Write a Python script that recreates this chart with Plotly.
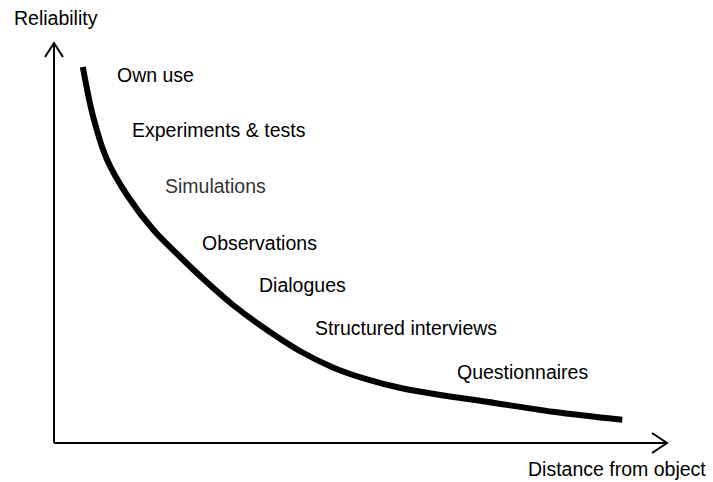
import plotly.graph_objects as go

# curve (distance -> reliability, both on a 0-10 scale)
distance = [0.47, 0.64, 0.86, 1.19, 1.62, 2.06, 2.45, 2.92, 3.47, 4.01,
            4.55, 5.11, 5.64, 6.30, 7.06, 8.14, 9.27]
reliability = [9.40, 8.15, 7.10, 6.20, 5.33, 4.65, 4.08, 3.45, 2.83, 2.30,
               1.89, 1.59, 1.38, 1.20, 1.03, 0.78, 0.58]

methods = ['Own use', 'Experiments & tests', 'Simulations', 'Observations',
           'Dialogues', 'Structured interviews', 'Questionnaires']
method_colors = ['black', 'black', '#333333', 'black', 'black', 'black', 'black']

W, H = 713, 482
L, R, T, B = 54, 46, 43, 39
pw, ph = W - L - R, H - T - B

# label spots in pixels (left edge, middle)
label_px = [(115, 75), (130, 130), (163, 186), (200, 243),
            (257, 285), (313, 328), (455, 372)]


def px_x(x):
    return (x - L) / pw


def px_y(y):
    return (H - B - y) / ph


font = dict(family='Liberation Sans, Arial, sans-serif', size=19.5, color='black')

fig = go.Figure()
fig.add_trace(go.Scatter(x=distance, y=reliability, mode='lines',
                         line=dict(color='black', width=6, shape='spline', smoothing=1.0),
                         hoverinfo='skip'))

annotations = []
for name, col, (lx, ly) in zip(methods, method_colors, label_px):
    annotations.append(dict(text=name, x=px_x(lx), y=px_y(ly), xref='paper', yref='paper',
                            xanchor='left', yanchor='middle', showarrow=False,
                            font=dict(font, color=col)))
annotations.append(dict(text='Reliability', x=px_x(12), y=px_y(18), xref='paper', yref='paper',
                        xanchor='left', yanchor='middle', showarrow=False, font=font))
annotations.append(dict(text='Distance from object', x=px_x(708), y=px_y(469), xref='paper',
                        yref='paper', xanchor='right', yanchor='middle', showarrow=False, font=font))

ax = dict(color='black', width=2)
shapes = [
    dict(type='line', xref='paper', yref='paper', x0=0, y0=0, x1=0, y1=1, line=ax),
    dict(type='line', xref='paper', yref='paper', x0=0, y0=0, x1=1, y1=0, line=ax),
    # open arrow heads
    dict(type='path', xref='paper', yref='paper', line=ax,
         path=f'M {-9 / pw} {1 - 14 / ph} L 0 1 L {9 / pw} {1 - 14 / ph}'),
    dict(type='path', xref='paper', yref='paper', line=ax,
         path=f'M {1 - 15 / pw} {10 / ph} L 1 0 L {1 - 15 / pw} {-10 / ph}'),
]

fig.update_layout(
    width=W, height=H,
    margin=dict(l=L, r=R, t=T, b=B),
    paper_bgcolor='white', plot_bgcolor='white',
    showlegend=False,
    xaxis=dict(range=[0, 10], visible=False, fixedrange=True),
    yaxis=dict(range=[0, 10], visible=False, fixedrange=True),
    annotations=annotations,
    shapes=shapes,
)

# drop the default page margin so the figure sits at the top-left corner
fig.write_html('out.html', post_script="document.body.style.margin='0';",
               config={'displayModeBar': False})
